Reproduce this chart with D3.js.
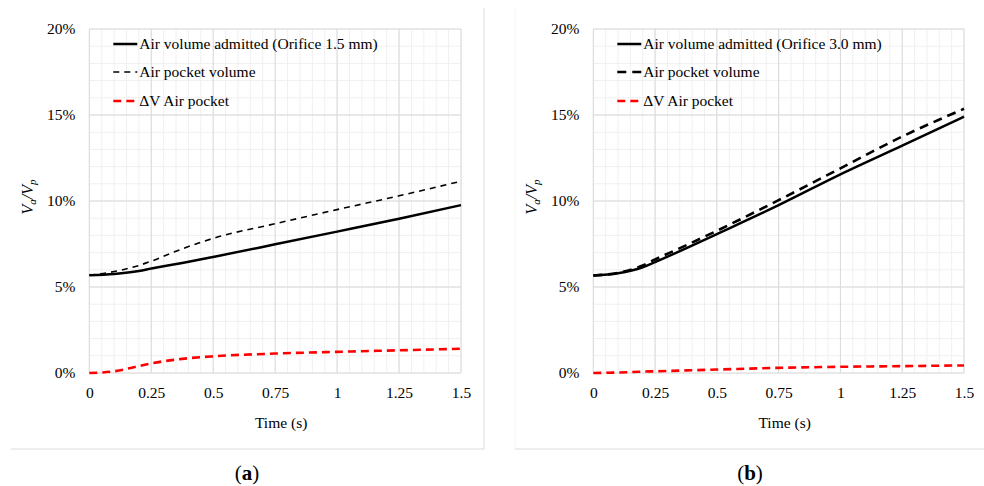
<!DOCTYPE html>
<html>
<head>
<meta charset="utf-8">
<script src="https://cdn.jsdelivr.net/npm/d3@7"></script>
<style>
  body { margin: 0; background: #fff; }
  svg, svg text { font-family: "Liberation Serif", "Times New Roman", "DejaVu Serif", serif; fill: #000; }
</style>
</head>
<body>
<svg id="chart" width="984" height="486"></svg>
<script>
let times = [0, 0.1, 0.2, 0.25, 0.375, 0.5, 0.75, 1.0, 1.25, 1.5];

let admittedA = [5.68, 5.76, 5.93, 6.07, 6.4, 6.75, 7.48, 8.22, 8.97, 9.76];
let pocketA   = [5.68, 5.9, 6.25, 6.5, 7.22, 7.83, 8.68, 9.5, 10.3, 11.15];
let deltaA    = [0, 0.1, 0.4, 0.56, 0.82, 0.97, 1.13, 1.23, 1.32, 1.41];

let admittedB = [5.67, 5.8, 6.15, 6.45, 7.25, 8.08, 9.76, 11.55, 13.22, 14.9];
let pocketB   = [5.67, 5.82, 6.25, 6.6, 7.42, 8.27, 10.05, 11.9, 13.75, 15.36];
let deltaB    = [0, 0.03, 0.08, 0.1, 0.15, 0.2, 0.3, 0.36, 0.4, 0.44];

let xTicks = [0, 0.25, 0.5, 0.75, 1, 1.25, 1.5];
let yTicks = [0, 5, 10, 15, 20];
let legendA = ["Air volume admitted (Orifice 1.5 mm)", "Air pocket volume", "\u0394V Air pocket"];
let legendB = ["Air volume admitted (Orifice 3.0 mm)", "Air pocket volume", "\u0394V Air pocket"];

const FONT = "Liberation Serif, Times New Roman, serif";
let svg = d3.select("#chart").attr("font-family", FONT);

// panel frames
svg.append("path").attr("d", "M484,8V449H11").attr("fill", "none").attr("stroke", "#dcdcdc");
svg.append("path").attr("d", "M515,8V449").attr("fill", "none").attr("stroke", "#f4f4f4");
svg.append("line").attr("x1", 515).attr("x2", 984).attr("y1", 449).attr("y2", 449).attr("stroke", "#dcdcdc");

function drawPanel(opt) {
  let x = d3.scaleLinear().domain([0, 1.5]).range([opt.left, opt.right]);
  let y = d3.scaleLinear().domain([0, 20]).range([373, 29]);
  let g = svg.append("g");

  // minor grid
  g.selectAll(".vminor").data(d3.range(0, 31).map(i => i * 0.05)).join("line")
    .attr("x1", d => x(d)).attr("x2", d => x(d)).attr("y1", y(0)).attr("y2", y(20))
    .attr("stroke", "#f0f0f0");
  g.selectAll(".hminor").data(d3.range(0, 21)).join("line")
    .attr("x1", x(0)).attr("x2", x(1.5)).attr("y1", d => y(d)).attr("y2", d => y(d))
    .attr("stroke", "#f0f0f0");
  // major grid
  g.selectAll(".vmajor").data(xTicks).join("line")
    .attr("x1", d => x(d)).attr("x2", d => x(d)).attr("y1", y(0)).attr("y2", y(20))
    .attr("stroke", "#dadada");
  g.selectAll(".hmajor").data(yTicks).join("line")
    .attr("x1", x(0)).attr("x2", x(1.5)).attr("y1", d => y(d)).attr("y2", d => y(d))
    .attr("stroke", "#dadada");

  // axes (labels only)
  let xa = g.append("g").attr("transform", `translate(0,${y(0)})`)
    .call(d3.axisBottom(x).tickValues(xTicks).tickSize(0).tickPadding(14).tickFormat(d => String(d)));
  xa.attr("font-family", FONT).attr("font-size", 15.5);
  xa.select(".domain").remove();

  let ya = g.append("g").attr("transform", `translate(${x(0)},0)`)
    .call(d3.axisLeft(y).tickValues(yTicks).tickSize(0).tickPadding(14).tickFormat(d => d + "%"));
  ya.attr("font-family", FONT).attr("font-size", 15.5);
  ya.select(".domain").remove();

  g.append("text").attr("x", (opt.left + opt.right) / 2 + 6).attr("y", 428)
    .attr("text-anchor", "middle").attr("font-size", 15.5).text("Time (s)");

  let yl = g.append("text").attr("transform", `translate(${opt.left - 56},197) rotate(-90)`)
    .attr("text-anchor", "middle").attr("font-size", 16).attr("font-style", "italic");
  yl.append("tspan").text("V");
  yl.append("tspan").attr("dy", 3).attr("font-size", 11).text("a");
  yl.append("tspan").attr("dy", -3).text("/V");
  yl.append("tspan").attr("dy", 3).attr("font-size", 11).text("p");

  // series
  let series = [
    { vals: opt.admitted, color: "#000", width: 2.5, dash: null },
    { vals: opt.pocket, color: "#000", width: opt.pocketWidth, dash: opt.pocketDash },
    { vals: opt.delta, color: "#ff0000", width: 2.6, dash: "8,5" }
  ];
  let line = d3.line().x(d => x(d[0])).y(d => y(d[1])).curve(d3.curveMonotoneX);
  series.forEach(s => {
    g.append("path").datum(times.map((t, i) => [t, s.vals[i]]))
      .attr("d", line).attr("fill", "none").attr("stroke", s.color)
      .attr("stroke-width", s.width).attr("stroke-dasharray", s.dash);
  });

  // legend
  let lx = opt.left + 24;
  let ly = [44, 72, 101];
  series.forEach((s, i) => {
    g.append("line").attr("x1", lx).attr("x2", lx + 24).attr("y1", ly[i]).attr("y2", ly[i])
      .attr("stroke", s.color).attr("stroke-width", s.width).attr("stroke-dasharray", s.dash);
    g.append("text").attr("x", lx + 26).attr("y", ly[i] + 5).attr("font-size", 15.5).text(opt.legend[i]);
  });

  let cap = svg.append("text").attr("x", opt.capX).attr("y", 480).attr("text-anchor", "middle")
    .attr("font-size", 21);
  cap.append("tspan").text("(");
  cap.append("tspan").attr("font-weight", "bold").text(opt.cap);
  cap.append("tspan").text(")");
}

drawPanel({ left: 89.3, right: 461, admitted: admittedA, pocket: pocketA, delta: deltaA,
  pocketWidth: 1.6, pocketDash: "6,5", legend: legendA, cap: "a", capX: 247 });
drawPanel({ left: 593.3, right: 964, admitted: admittedB, pocket: pocketB, delta: deltaB,
  pocketWidth: 2.6, pocketDash: "9,6", legend: legendB, cap: "b", capX: 750 });
</script>
</body>
</html>
